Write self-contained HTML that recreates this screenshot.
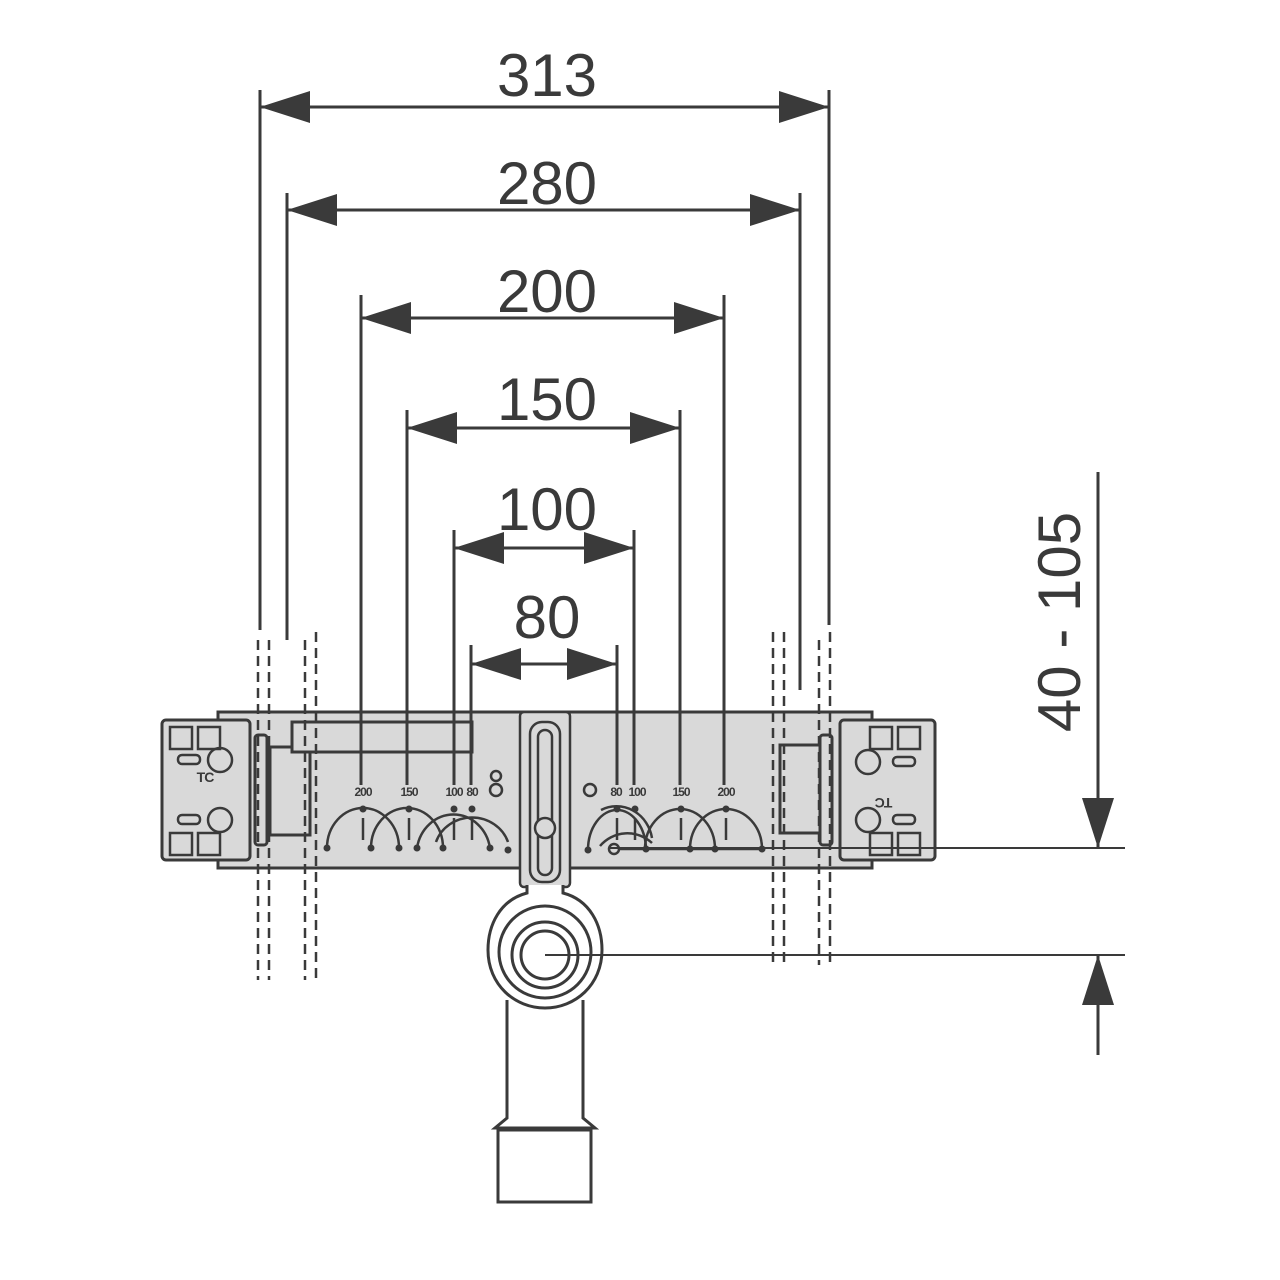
<!DOCTYPE html>
<html><head><meta charset="utf-8"><style>html,body{margin:0;padding:0;background:#fff}svg{display:block}</style></head>
<body>
<svg width="1280" height="1280" viewBox="0 0 1280 1280" xmlns="http://www.w3.org/2000/svg" font-family="Liberation Sans, sans-serif">
<defs>
<marker id="a" viewBox="0 0 50 32" refX="50" refY="16" markerWidth="50" markerHeight="32" markerUnits="userSpaceOnUse" orient="auto"><path d="M0,0 L50,16 L0,32 Z" fill="#3a3a3a"/></marker>
<marker id="b" viewBox="0 0 50 32" refX="0" refY="16" markerWidth="50" markerHeight="32" markerUnits="userSpaceOnUse" orient="auto"><path d="M50,0 L0,16 L50,32 Z" fill="#3a3a3a"/></marker>
</defs>
<!-- plate -->
<g stroke="#3a3a3a" stroke-width="3">
<path d="M218,712 H872 V730 H860 V850 H872 V868 H218 V850 H230 V730 H218 Z" fill="#d9d9d9"/>
<rect x="162" y="720" width="88" height="140" rx="4" fill="#d9d9d9"/>
<rect x="840" y="720" width="95" height="140" rx="4" fill="#d9d9d9"/>
<rect x="780" y="745" width="50" height="88" fill="#d9d9d9"/>
<rect x="255" y="735" width="12" height="110" rx="3" fill="#d9d9d9"/>
<rect x="820" y="735" width="12" height="110" rx="3" fill="#d9d9d9"/>
<rect x="270" y="747" width="40" height="88" fill="#d9d9d9"/>
<rect x="292" y="722" width="180" height="30" fill="#d9d9d9"/>
</g>
<g stroke="#3a3a3a" stroke-width="2.5" fill="none">
<rect x="170" y="727" width="22" height="22"/><rect x="198" y="727" width="22" height="22"/>
<rect x="170" y="833" width="22" height="22"/><rect x="198" y="833" width="22" height="22"/>
<rect x="870" y="727" width="22" height="22"/><rect x="898" y="727" width="22" height="22"/>
<rect x="870" y="833" width="22" height="22"/><rect x="898" y="833" width="22" height="22"/>
<circle cx="220" cy="760" r="12"/><circle cx="220" cy="820" r="12"/>
<circle cx="868" cy="762" r="12"/><circle cx="868" cy="820" r="12"/>
<rect x="178" y="755" width="22" height="9" rx="4"/><rect x="178" y="815" width="22" height="9" rx="4"/>
<rect x="893" y="757" width="22" height="9" rx="4"/><rect x="893" y="815" width="22" height="9" rx="4"/>
<rect x="520" y="712" width="50" height="175" rx="4" fill="#d9d9d9"/>
<rect x="530" y="722" width="30" height="160" rx="12"/>
<rect x="538" y="730" width="14" height="145" rx="7"/>
<circle cx="545" cy="828" r="10" fill="#d9d9d9"/>
<circle cx="496" cy="776" r="5"/><circle cx="496" cy="790" r="6"/><circle cx="590" cy="790" r="6"/>
<circle cx="614" cy="849" r="5"/>
<line x1="619" y1="849" x2="762" y2="849"/>
<line x1="610" y1="848" x2="1125" y2="848" stroke-width="2"/>
<path d="M327,848 A36,40 0 0 1 399,848"/><path d="M371,848 A36,40 0 0 1 443,848"/>
<path d="M417,848 A37,40 0 0 1 490,848"/><path d="M436,842 A38,36 0 0 1 508,842"/>
<path d="M588,850 A29,40 0 0 1 646,850"/><path d="M600,846 A36,36 0 0 1 652,843"/>
<path d="M645,849 A35,40 0 0 1 715,849"/><path d="M690,849 A36,40 0 0 1 762,849"/>
<path d="M601,810 A36,38 0 0 1 652,838"/>
<line x1="363" y1="818" x2="363" y2="840"/><line x1="409" y1="818" x2="409" y2="840"/>
<line x1="454" y1="818" x2="454" y2="840"/><line x1="472" y1="818" x2="472" y2="840"/>
<line x1="617" y1="818" x2="617" y2="840"/><line x1="635" y1="818" x2="635" y2="840"/>
<line x1="681" y1="818" x2="681" y2="840"/><line x1="726" y1="818" x2="726" y2="840"/>
</g>
<g fill="#3a3a3a">
<circle cx="327" cy="848" r="3.5"/><circle cx="399" cy="848" r="3.5"/><circle cx="371" cy="848" r="3.5"/><circle cx="443" cy="848" r="3.5"/>
<circle cx="417" cy="848" r="3.5"/><circle cx="490" cy="848" r="3.5"/><circle cx="508" cy="850" r="3.5"/>
<circle cx="363" cy="809" r="3.5"/><circle cx="409" cy="809" r="3.5"/><circle cx="454" cy="809" r="3.5"/><circle cx="472" cy="809" r="3.5"/>
<circle cx="617" cy="809" r="3.5"/><circle cx="635" cy="809" r="3.5"/><circle cx="681" cy="809" r="3.5"/><circle cx="726" cy="809" r="3.5"/>
<circle cx="588" cy="850" r="3.5"/><circle cx="646" cy="849" r="3.5"/><circle cx="690" cy="849" r="3.5"/><circle cx="715" cy="849" r="3.5"/><circle cx="762" cy="849" r="3.5"/>
</g>
<g stroke="#3a3a3a" stroke-width="3" fill="none">
<line x1="260" y1="90" x2="260" y2="630"/><line x1="829" y1="90" x2="829" y2="625"/>
<line x1="287" y1="193" x2="287" y2="640"/><line x1="800" y1="193" x2="800" y2="690"/>
<line x1="361" y1="295" x2="361" y2="785"/><line x1="724" y1="295" x2="724" y2="785"/>
<line x1="407" y1="410" x2="407" y2="785"/><line x1="680" y1="410" x2="680" y2="785"/>
<line x1="454" y1="530" x2="454" y2="785"/><line x1="634" y1="530" x2="634" y2="785"/>
<line x1="471" y1="645" x2="471" y2="785"/><line x1="617" y1="645" x2="617" y2="785"/>
<line x1="260" y1="107" x2="829" y2="107" marker-start="url(#b)" marker-end="url(#a)"/>
<line x1="287" y1="210" x2="800" y2="210" marker-start="url(#b)" marker-end="url(#a)"/>
<line x1="361" y1="318" x2="724" y2="318" marker-start="url(#b)" marker-end="url(#a)"/>
<line x1="407" y1="428" x2="680" y2="428" marker-start="url(#b)" marker-end="url(#a)"/>
<line x1="454" y1="548" x2="634" y2="548" marker-start="url(#b)" marker-end="url(#a)"/>
<line x1="471" y1="664" x2="617" y2="664" marker-start="url(#b)" marker-end="url(#a)"/>
<line x1="1098" y1="472" x2="1098" y2="848" marker-end="url(#a)"/>
<line x1="1098" y1="1055" x2="1098" y2="955" marker-end="url(#a)"/>
</g>
<g fill="#3a3a3a" font-size="60" text-anchor="middle">
<text x="547" y="96">313</text><text x="547" y="204">280</text><text x="547" y="312">200</text>
<text x="547" y="420">150</text><text x="547" y="530">100</text><text x="547" y="638">80</text>
<text transform="translate(1080,622) rotate(-90)">40 - 105</text>
</g>
<g fill="#3a3a3a" font-size="12" font-weight="bold" text-anchor="middle" letter-spacing="-1">
<text x="363" y="796">200</text><text x="409" y="796">150</text><text x="454" y="796">100</text><text x="472" y="796">80</text>
<text x="616" y="796">80</text><text x="637" y="796">100</text><text x="681" y="796">150</text><text x="726" y="796">200</text>
<text x="205" y="782" font-size="14">TC</text>
<text x="884" y="808" font-size="14" transform="rotate(180 884 803)">TC</text>
</g>
<g stroke="#3a3a3a" stroke-width="2.5" stroke-dasharray="10,6" fill="none">
<line x1="258" y1="640" x2="258" y2="980"/><line x1="269" y1="640" x2="269" y2="980"/>
<line x1="305" y1="640" x2="305" y2="980"/><line x1="316" y1="632" x2="316" y2="980"/>
<line x1="773" y1="632" x2="773" y2="965"/><line x1="784" y1="632" x2="784" y2="965"/>
<line x1="819" y1="640" x2="819" y2="965"/><line x1="830" y1="632" x2="830" y2="965"/>
</g>
<g stroke="#3a3a3a" stroke-width="3" fill="#fff">
<rect x="498" y="1130" width="93" height="72"/>
<path d="M507,1000 V1118 L495,1128 H595 L583,1118 V1000"/>
<path d="M527,885 V893 C500,900 488,925 488,950 C488,985 515,1008 545,1008 C575,1008 602,985 602,950 C602,925 590,900 563,893 V885"/>
<circle cx="545" cy="952" r="46"/><circle cx="545" cy="955" r="33"/><circle cx="545" cy="955" r="24"/>
</g>
<line x1="545" y1="955" x2="1125" y2="955" stroke="#3a3a3a" stroke-width="2"/>
</svg>
</body></html>
